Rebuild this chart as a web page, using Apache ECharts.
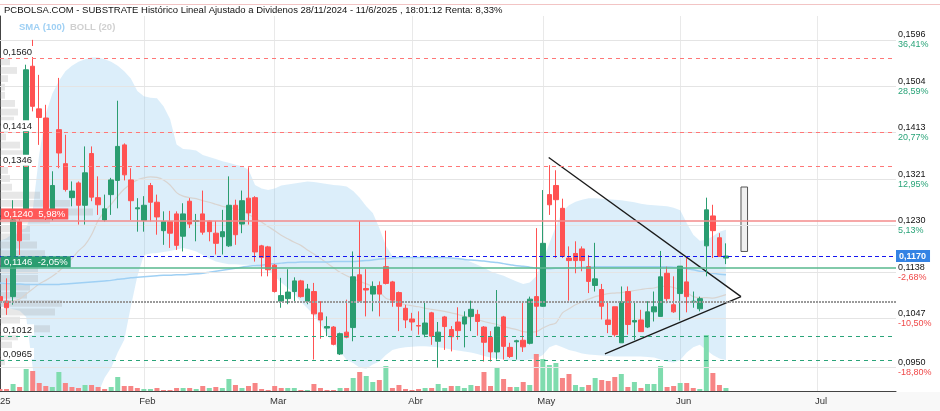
<!DOCTYPE html>
<html><head><meta charset="utf-8">
<script src="https://cdn.jsdelivr.net/npm/echarts@6/dist/echarts.min.js"></script>
<style>html,body{margin:0;padding:0;background:#fff;}#c{width:940px;height:411px;}</style>
</head><body><div id="c"></div>
<script>
// ---------- DATA ----------
const firstDay = '2025-01-02';
const lastAxisDay = '2025-07-17';
const holidays = ['2025-04-18', '2025-04-21', '2025-05-01'];
const monthNames = ['2025', 'Feb', 'Mar', 'Abr', 'May', 'Jun', 'Jul', 'Ago', 'Sep', 'Oct', 'Nov', 'Dic'];

const opens = [
  .1090,.1081,.1090,.1238,.1251,.1544,.1460,.1442,.1258,.1419,
  .1352,.1285,.1314,.1270,.1372,.1285,.1241,.1291,.1319,.1389,
  .1320,.1263,.1240,.1309,.1276,.1220,.1238,.1253,.1209,.1278,
  .1238,.1253,.1239,.1215,.1208,.1190,.1270,.1233,.1284,.1285,
  .1190,.1188,.1152,.1081,.1086,.1100,.1121,.1081,.1100,.1058,
  .1028,.1030,.0977,.1020,.1029,.1133,.1106,.1095,.1112,.1149,
  .1119,.1098,.1067,.1046,.1033,.1016,.1058,.1002,.1050,.1025,
  .1040,.1036,.1051,.1055,.1030,.1010,.0981,.1050,.0990,.1001,
  .1004,.0998,.1090,.1071,.1291,.1309,.1264,.1166,.1175,.1184,
  .1149,.1112,.1104,.1044,.1070,.0999,.1100,.1040,.1044,.1030,
  .1060,.1051,.1136,.1074,.1096,.1119,.1079,.1066,.1190,.1249,
  .1206,.1166];
const closes = [
  .1082,.1068,.1241,.1200,.1537,.1465,.1443,.1251,.1309,.1373,
  .1301,.1298,.1270,.1334,.1286,.1271,.1263,.1320,.1386,.1330,
  .1279,.1265,.1270,.1276,.1247,.1238,.1215,.1191,.1253,.1233,
  .1240,.1217,.1218,.1195,.1218,.1270,.1212,.1279,.1255,.1178,
  .1167,.1143,.1100,.1092,.1099,.1121,.1090,.1105,.1056,.1044,
  .1031,.0996,.1017,.1010,.1129,.1082,.1103,.1110,.1095,.1116,
  .1083,.1071,.1044,.1040,.1032,.1038,.1012,.1020,.1031,.1011,
  .1023,.1050,.1065,.1041,.1000,.0981,.1030,.0992,.0972,.1003,
  .0991,.1085,.1071,.1195,.1271,.1281,.1169,.1161,.1161,.1161,
  .1120,.1125,.1071,.1035,.1015,.1080,.1035,.1043,.1021,.1060,
  .1070,.1129,.1086,.1060,.1150,.1090,.1081,.1086,.1261,.1220,
  .1169,.1170];
const lows = [
  .1075,.1054,.1074,.1172,.1245,.1455,.1389,.1241,.1240,.1343,
  .1297,.1268,.1232,.1232,.1278,.1251,.1238,.1251,.1264,.1319,
  .1241,.1218,.1218,.1238,.1212,.1192,.1186,.1182,.1179,.1225,
  .1199,.1212,.1199,.1173,.1173,.1188,.1192,.1215,.1232,.1159,
  .1130,.1130,.1098,.1068,.1075,.1079,.1088,.1075,.0966,.1007,
  .1012,.0994,.0975,.1008,.1002,.1080,.1051,.1061,.1051,.1114,
  .1070,.1022,.1028,.1023,.1015,.1010,.0995,.0950,.0985,.0982,
  .1005,.0990,.1022,.1013,.0962,.0962,.0966,.0966,.0969,.0966,
  .0981,.0996,.1012,.1070,.1251,.1166,.1166,.1082,.1136,.1140,
  .1097,.1100,.1045,.1018,.1011,.0999,.1015,.1004,.1021,.1028,
  .1041,.1051,.1077,.1058,.1043,.1059,.1068,.1061,.1130,.1166,
  .1169,.1154];
const highs = [
  .1095,.1126,.1280,.1258,.1547,.1596,.1527,.1468,.1337,.1521,
  .1409,.1317,.1317,.1386,.1386,.1327,.1291,.1324,.1476,.1392,
  .1343,.1284,.1288,.1314,.1291,.1258,.1259,.1258,.1274,.1284,
  .1253,.1299,.1240,.1239,.1261,.1327,.1281,.1299,.1345,.1288,
  .1192,.1190,.1154,.1127,.1144,.1128,.1123,.1115,.1117,.1081,
  .1051,.1032,.1019,.1084,.1179,.1239,.1144,.1120,.1120,.1220,
  .1121,.1100,.1074,.1058,.1061,.1079,.1060,.1040,.1052,.1032,
  .1069,.1061,.1082,.1064,.1032,.1022,.1103,.1052,.0999,.1005,
  .1079,.1090,.1225,.1300,.1349,.1339,.1283,.1189,.1199,.1189,
  .1172,.1196,.1115,.1079,.1070,.1110,.1110,.1079,.1064,.1081,
  .1100,.1180,.1149,.1130,.1150,.1166,.1100,.1090,.1285,.1271,
  .1215,.1195];
const volumes = [ // thousands of shares
  50,50,175,100,550,500,200,125,100,475,
  200,100,75,150,150,100,50,100,350,125,
  125,75,50,50,75,25,25,75,75,75,
  50,125,75,100,75,300,150,75,125,200,
  50,25,125,75,75,75,25,25,175,75,
  25,25,75,75,325,475,375,225,275,625,
  75,150,50,25,50,75,75,175,75,125,
  125,75,150,125,475,125,575,300,100,100,
  225,150,925,800,650,700,325,425,150,100,
  150,325,275,250,350,425,100,225,75,175,
  175,625,100,125,200,200,75,50,1400,450,
  150,75];
const bollUpper = [
  .1200,.1205,.1215,.1220,.1225,.1260,.1370,.1450,.1490,.1515,
  .1534,.1545,.1553,.1558,.1561,.1561,.1558,.1553,.1545,.1534,
  .1520,.1495,.1485,.1482,.1481,.1465,.1440,.1390,.1381,.1380,
  .1378,.1369,.1365,.1361,.1357,.1354,.1350,.1347,.1340,.1310,
  .1303,.1300,.1303,.1309,.1311,.1313,.1315,.1317,.1316,.1314,
  .1312,.1310,.1309,.1307,.1298,.1285,.1268,.1255,.1225,.1190,
  .1170,.1167,.1166,.1166,.1166,.1166,.1167,.1168,.1167,.1167,
  .1166,.1163,.1158,.1153,.1147,.1140,.1135,.1131,.1125,.1120,
  .1115,.1118,.1130,.1160,.1195,.1228,.1258,.1270,.1277,.1281,
  .1284,.1284,.1283,.1282,.1281,.1280,.1278,.1276,.1273,.1271,
  .1270,.1269,.1268,.1265,.1260,.1235,.1212,.1200,.1202,.1209,
  .1218,.1222];
const bollLower = [
  .1070,.1068,.1065,.1062,.1050,.0950,.0860,.0850,.0845,.0840,
  .0840,.0845,.0855,.0870,.0885,.0900,.0930,.0950,.0980,.1005,
  .1070,.1130,.1172,.1175,.1176,.1178,.1180,.1183,.1186,.1183,
  .1179,.1172,.1165,.1159,.1156,.1154,.1154,.1153,.1153,.1150,
  .1146,.1143,.1130,.1118,.1107,.1095,.1080,.1067,.1054,.1035,
  .1015,.0998,.0982,.0965,.0959,.0950,.0948,.0956,.0962,.0975,
  .0985,.0988,.0990,.0991,.0992,.0992,.0991,.0990,.0988,.0986,
  .0984,.0982,.0980,.0977,.0973,.0970,.0968,.0966,.0964,.0964,
  .0964,.0966,.0968,.0975,.0990,.0995,.0990,.0985,.0982,.0978,
  .0976,.0975,.0974,.0973,.0972,.0972,.0972,.0972,.0972,.0971,
  .0970,.0966,.0962,.0960,.0965,.0980,.0990,.0995,.0985,.0975,
  .0968,.0965];
const bollMid = [
  .1078,.1079,.1082,.1085,.1095,.1105,.1115,.1122,.1130,.1140,
  .1152,.1165,.1180,.1192,.1212,.1240,.1258,.1272,.1288,.1302,
  .1312,.1320,.1324,.1326,.1325,.1320,.1310,.1295,.1288,.1285,
  .1283,.1279,.1276,.1272,.1268,.1266,.1263,.1260,.1252,.1245,
  .1237,.1228,.1220,.1211,.1204,.1197,.1191,.1182,.1174,.1165,
  .1156,.1147,.1138,.1131,.1125,.1120,.1115,.1110,.1100,.1087,
  .1083,.1078,.1074,.1072,.1070,.1067,.1065,.1063,.1061,.1058,
  .1055,.1051,.1048,.1045,.1041,.1038,.1035,.1031,.1028,.1025,
  .1021,.1020,.1021,.1028,.1034,.1038,.1058,.1066,.1074,.1080,
  .1085,.1090,.1093,.1096,.1097,.1098,.1100,.1102,.1104,.1106,
  .1107,.1110,.1110,.1108,.1104,.1098,.1090,.1088,.1088,.1087,
  .1090,.1094];
const sma100 = [
  .1117,.1116,.1115,.1115,.1114,.1114,.1114,.1114,.1114,.1114,
  .1115,.1116,.1117,.1118,.1119,.1120,.1121,.1122,.1124,.1125,
  .1127,.1128,.1129,.1130,.1131,.1132,.1132,.1133,.1133,.1134,
  .1135,.1136,.1138,.1140,.1142,.1144,.1146,.1148,.1150,.1151,
  .1152,.1154,.1155,.1156,.1157,.1157,.1158,.1158,.1158,.1158,
  .1158,.1159,.1159,.1159,.1159,.1160,.1161,.1162,.1164,.1165,
  .1166,.1167,.1167,.1167,.1167,.1167,.1167,.1167,.1167,.1166,
  .1165,.1163,.1162,.1161,.1160,.1158,.1157,.1155,.1153,.1151,
  .1150,.1148,.1146,.1145,.1145,.1146,.1146,.1147,.1147,.1148,
  .1148,.1149,.1149,.1149,.1149,.1149,.1149,.1149,.1149,.1149,
  .1149,.1149,.1149,.1148,.1147,.1145,.1143,.1140,.1138,.1136,
  .1134,.1133];
// volume-at-price profile (bucket lower bound, bucket size, volume in thousands)
const profilePrices = [
  .1544,.1527,.1511,.1494,.1478,.1462,.1445,.1429,.1412,.1396,
  .1380,.1363,.1347,.1330,.1314,.1297,.1281,.1265,.1248,.1232,
  .1215,.1199,.1183,.1166,.1150,.1133,.1117,.1100,.1084,.1068,
  .1051,.1035,.1018,.1002,.0986,.0969,.0953];
const profileStep = 0.00164;
const profileVolumes = [
  100,170,80,50,50,150,180,140,80,60,
  200,270,100,80,100,120,400,700,930,500,
  300,300,370,450,400,380,380,300,270,620,
  550,200,500,180,120,80,50];
// right axis ticks
const tickPrices = [0.1596, 0.1504, 0.1413, 0.1321, 0.1230, 0.1138, 0.1047, 0.0950];
const tickPercents = ['36,41%', '28,59%', '20,77%', '12,95%', '5,13%', '-2,68%', '-10,50%', '-18,80%'];
const lastPrice = 0.1170;
const resistances = [0.1560, 0.1414, 0.1346];
const supports = [0.1012, 0.0965];
const pivotPrice = 0.1080;
const upperAlert = 0.1240, upperAlertPct = '5,98%';
const lowerAlert = 0.1146, lowerAlertPct = '-2,05%';
// drawing annotations: [tradingDayIndex, price]
const triangleTop = [[83.9, 0.1364], [113.3, 0.1090]];
const triangleBottom = [[92.5, 0.0977], [113.3, 0.1090]];
const projectionBox = [[113.3, 0.1306], [114.3, 0.1179]];

// ---------- BUILD ----------
function tradingDays(from, to, hol) {
  const out = []; const d = new Date(from + 'T00:00:00Z'); const end = new Date(to + 'T00:00:00Z');
  while (d <= end) {
    const iso = d.toISOString().slice(0, 10); const w = d.getUTCDay();
    if (w !== 0 && w !== 6 && hol.indexOf(iso) < 0) out.push(iso);
    d.setUTCDate(d.getUTCDate() + 1);
  }
  return out;
}
const dates = tradingDays(firstDay, lastAxisDay, holidays);
const lastIndex = dates.length - 1;
const isMonthStart = i => i === 0 || dates[i].slice(5, 7) !== dates[i - 1].slice(5, 7);
const fmt = v => v.toFixed(4).replace('.', ',');

const UP = '#2a9d70', DOWN = '#ff5252';
const candleData = opens.map((o, i) => [o, closes[i], lows[i], highs[i]]);
const volData = volumes.map((v, i) => {
  const prev = i > 0 ? closes[i - 1] : opens[i];
  return { value: v, itemStyle: { color: closes[i] >= prev ? '#7fdcae' : '#f78585' } };
});
const bandWidth = bollUpper.map((u, i) => +(u - bollLower[i]).toFixed(5));
const FONT = 'Liberation Sans';

const gridLines = tickPrices.map((p, k) => {
  const neg = tickPercents[k].charAt(0) === '-';
  return { yAxis: p, lineStyle: { color: '#e4e4e4', type: 'solid', width: 1 },
    label: { show: true, position: 'end', distance: 2, formatter: '{v|' + fmt(p) + '}\n{p|' + tickPercents[k] + '}',
      rich: { v: { color: '#111', fontSize: 9, lineHeight: 10, fontFamily: FONT },
              p: { color: neg ? '#f04848' : '#2aa479', fontSize: 9, lineHeight: 10, fontFamily: FONT } } } };
});
const lines = [];
const plainLabel = { show: true, position: 'insideStartTop', distance: 1, color: '#222', fontSize: 9.5, fontFamily: FONT,
  backgroundColor: '#fff', padding: [1, 2, 0, 2], formatter: p => fmt(p.value) };
resistances.forEach(p => lines.push({ yAxis: p, lineStyle: { color: '#f77', type: [4, 4], width: 1 }, label: plainLabel }));
supports.forEach(p => lines.push({ yAxis: p, lineStyle: { color: '#2aa479', type: [4, 4], width: 1 }, label: plainLabel }));
lines.push({ yAxis: pivotPrice, lineStyle: { color: '#9a9a9a', type: [2, 1], width: 2 }, label: { show: false } });
lines.push({ yAxis: upperAlert, lineStyle: { color: '#f38b8b', type: 'solid', width: 1.5 },
  label: { show: true, position: 'insideStartTop', distance: 1, color: '#fff', fontSize: 9.5, fontFamily: FONT,
    backgroundColor: '#ff5858', padding: [1, 3, 0, 3], formatter: fmt(upperAlert) + '  ' + upperAlertPct } });
lines.push({ yAxis: lowerAlert, lineStyle: { color: '#58b88e', type: 'solid', width: 1.5 },
  label: { show: true, position: 'insideStartTop', distance: 1, color: '#fff', fontSize: 9.5, fontFamily: FONT,
    backgroundColor: '#2a9d70', padding: [1, 3, 0, 3], formatter: fmt(lowerAlert) + '  ' + lowerAlertPct } });
lines.push({ yAxis: lastPrice, lineStyle: { color: '#1616f0', type: [4, 3], width: 1 },
  label: { show: true, position: 'end', distance: 0, color: '#fff', fontSize: 9, fontWeight: 'bold', fontFamily: FONT,
    backgroundColor: '#3483e4', padding: [2, 4, 1, 3], formatter: fmt(lastPrice) } });

const chart = echarts.init(document.getElementById('c'), null, { renderer: 'canvas' });
chart.setOption({
  animation: false,
  backgroundColor: '#fff',
  title: [
    { text: 'PCBOLSA.COM - SUBSTRATE Histórico Lineal Ajustado a Dividenos 28/11/2024 - 11/6/2025 , 18:01:12 Renta: 8,33%',
      left: 4, top: 5, padding: 0, textStyle: { fontSize: 9.5, fontWeight: 'normal', color: '#111', fontFamily: FONT } },
    { text: '{a|SMA (100)} {b|BOLL (20)}', left: 19, top: 18, padding: 0,
      textStyle: { rich: { a: { color: '#9fd0f4', fontWeight: 'bold', fontSize: 9.5, fontFamily: FONT },
                           b: { color: '#d0d0d0', fontWeight: 'bold', fontSize: 9.5, fontFamily: FONT } } } }
  ],
  graphic: [
    { type: 'line', shape: { x1: 0, y1: 4.5, x2: 940, y2: 4.5 }, style: { stroke: '#f2c4c4', lineWidth: 1 }, z: -1 },
    { type: 'rect', shape: { x: 0, y: 392, width: 940, height: 19 }, style: { fill: '#f8f8f8' }, z: -1 }
  ],
  grid: { left: 0, right: 44, top: 16, bottom: 20, containLabel: false, outerBoundsMode: 'none' },
  xAxis: [
    { type: 'category', data: dates, boundaryGap: false,
      axisLine: { show: true, lineStyle: { color: '#444', width: 1 } }, axisTick: { show: false },
      axisLabel: { interval: (i) => isMonthStart(i), color: '#333', fontSize: 9.5, fontFamily: FONT, margin: 5,
        alignMinLabel: 'center', hideOverlap: false,
        formatter: (v, i) => i === 0 ? '{f|' + monthNames[+v.slice(5, 7) - 1] + '}' : '{m|' + monthNames[+v.slice(5, 7) - 1] + '}',
        rich: { f: { fontSize: 9.5, color: '#333', fontFamily: FONT },
                m: { fontSize: 9.5, color: '#333', fontFamily: FONT, padding: [0, 0, 0, 7] } } },
      splitLine: { show: true, interval: (i) => isMonthStart(i), lineStyle: { color: '#e9e9e9', width: 1 } } },
    { type: 'value', min: 0, max: 8960, show: false, position: 'top' },
    { type: 'value', min: 0, max: lastIndex, show: false }
  ],
  yAxis: [
    { type: 'value', position: 'right', min: 0.0904, max: 0.1643, scale: true,
      axisLine: { show: true, lineStyle: { color: '#444', width: 1 } }, axisTick: { show: false },
      axisLabel: { show: false }, splitLine: { show: false } },
    { type: 'value', min: 0, max: 9375, show: false }
  ],
  series: [
    { name: 'bollLower', type: 'line', data: bollLower, stack: 'boll', symbol: 'none', silent: true,
      lineStyle: { width: 0, opacity: 0 }, z: 1,
      markLine: { symbol: 'none', silent: true, animation: false, precision: 4, data: gridLines } },
    { name: 'bollBand', type: 'line', data: bandWidth, stack: 'boll', symbol: 'none', silent: true,
      lineStyle: { width: 0, opacity: 0 }, areaStyle: { color: 'rgba(140,198,240,0.30)', opacity: 1 }, z: 1 },
    { name: 'volume', type: 'bar', xAxisIndex: 0, yAxisIndex: 1, data: volData, barWidth: 5, silent: true, z: 2 },
    { name: 'profile', type: 'custom', xAxisIndex: 1, yAxisIndex: 0, silent: true, z: 3,
      data: profileVolumes.map((v, k) => [v, profilePrices[k], profilePrices[k] + profileStep]),
      encode: { x: 0, y: [1, 2] },
      renderItem: (params, api) => {
        const a = api.coord([0, api.value(2)]); const b = api.coord([api.value(0), api.value(1)]);
        return { type: 'rect', shape: { x: a[0], y: a[1] + 0.5, width: b[0] - a[0], height: b[1] - a[1] - 1.5 },
          style: { fill: 'rgba(170,170,170,0.28)' } };
      } },
    { name: 'BOLL mid', type: 'line', data: bollMid, symbol: 'none', silent: true, smooth: 0.3,
      lineStyle: { color: '#d9d4d0', width: 1.2 }, z: 3 },
    { name: 'SMA (100)', type: 'line', data: sma100, symbol: 'none', silent: true, smooth: 0.3,
      lineStyle: { color: '#9fd0f4', width: 1.5 }, z: 3 },
    { name: 'price', type: 'candlestick', data: candleData, barWidth: 5, z: 5,
      itemStyle: { color: UP, color0: DOWN, borderColor: UP, borderColor0: DOWN, borderWidth: 1 } },
    { name: 'levels', type: 'line', xAxisIndex: 2, yAxisIndex: 0, data: [], z: 7,
      markLine: { symbol: 'none', silent: true, animation: false, precision: 4, data: lines, z: 7 } },
    { name: 'drawings', type: 'line', xAxisIndex: 2, yAxisIndex: 0, data: [], z: 8,
      markLine: { symbol: 'none', silent: true, animation: false, label: { show: false },
        lineStyle: { color: '#1a1a1a', width: 1.3, type: 'solid' },
        data: [[{ coord: triangleTop[0] }, { coord: triangleTop[1] }], [{ coord: triangleBottom[0] }, { coord: triangleBottom[1] }]] },
      markArea: { silent: true, itemStyle: { color: '#efefef', borderColor: '#555', borderWidth: 1 },
        data: [[{ coord: projectionBox[0] }, { coord: projectionBox[1] }]] } }
  ]
});
</script>
</body></html>
